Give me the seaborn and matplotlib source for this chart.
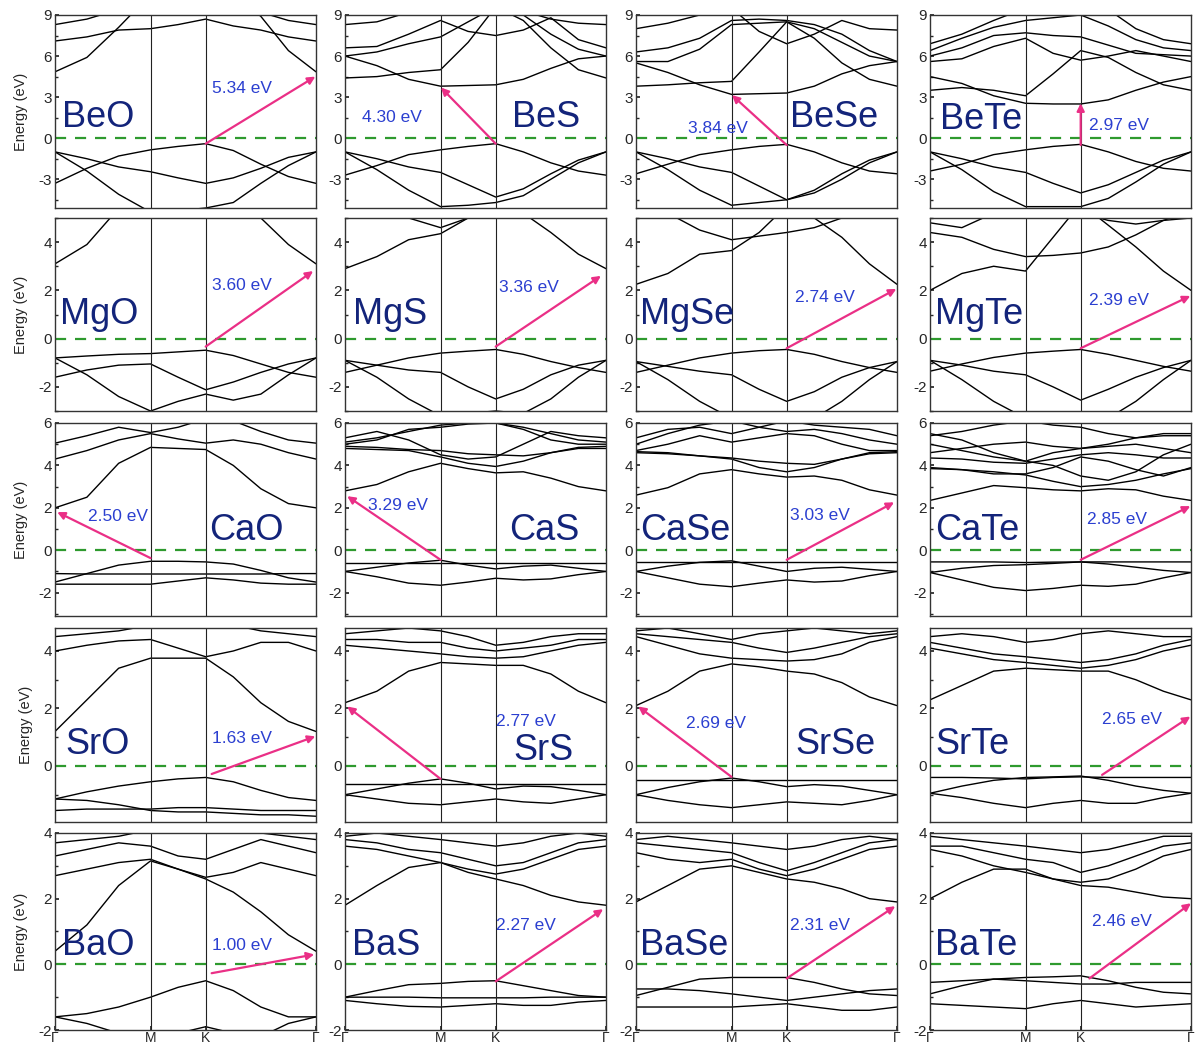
import numpy as np
import pandas as pd
import matplotlib
matplotlib.use("Agg")
import matplotlib.pyplot as plt
import seaborn as sns

# ---------------- data ----------------
K_PATH = [0.0, 0.289, 0.577, 0.866, 1.116, 1.366, 1.616, 1.866, 2.116, 2.366]
K_TICKS = [0.0, 0.866, 1.366, 2.366]
K_LABELS = ["Γ", "M", "K", "Γ"]

COMPOUNDS = ["BeO", "BeS", "BeSe", "BeTe",
             "MgO", "MgS", "MgSe", "MgTe",
             "CaO", "CaS", "CaSe", "CaTe",
             "SrO", "SrS", "SrSe", "SrTe",
             "BaO", "BaS", "BaSe", "BaTe"]
GAP_LABELS = ["5.34 eV", "4.30 eV", "3.84 eV", "2.97 eV",
              "3.60 eV", "3.36 eV", "2.74 eV", "2.39 eV",
              "2.50 eV", "3.29 eV", "3.03 eV", "2.85 eV",
              "1.63 eV", "2.77 eV", "2.69 eV", "2.65 eV",
              "1.00 eV", "2.27 eV", "2.31 eV", "2.46 eV"]

BeO = [[-3.3, -2.2, -1.3, -0.85, -0.6, -0.4, -0.9, -1.9, -2.8, -3.3],
       [-1.0, -1.5, -2.1, -2.45, -2.9, -3.3, -2.9, -2.2, -1.4, -1.0],
       [-1.0, -2.4, -4.1, -5.4, -5.3, -5.1, -4.7, -3.3, -2.0, -1.0],
       [4.85, 5.9, 8.1, 10.5, 11.0, 11.0, 10.5, 8.9, 6.4, 4.85],
       [7.1, 7.4, 7.9, 8.0, 8.3, 8.7, 8.2, 7.9, 7.4, 7.1],
       [8.3, 8.7, 9.4, 9.8, 9.8, 9.7, 9.6, 9.2, 8.6, 8.3]]
BeS = [[-2.7, -2.0, -1.2, -0.85, -0.6, -0.4, -1.0, -1.8, -2.4, -2.7],
       [-1.0, -1.5, -2.1, -2.5, -3.4, -4.3, -3.7, -2.6, -1.6, -1.0],
       [-1.0, -2.3, -3.8, -5.0, -4.9, -4.7, -4.2, -3.0, -1.8, -1.0],
       [6.0, 5.3, 4.3, 3.8, 3.85, 3.9, 4.3, 5.1, 5.8, 6.0],
       [4.4, 4.5, 4.8, 5.0, 7.0, 9.6, 8.6, 6.6, 5.0, 4.4],
       [6.6, 6.7, 7.6, 8.6, 7.8, 7.5, 7.9, 8.8, 7.2, 6.6],
       [8.3, 8.5, 9.2, 9.5, 9.7, 9.6, 9.3, 8.7, 8.4, 8.3],
       [6.0, 6.3, 6.9, 7.4, 8.5, 9.6, 9.0, 7.6, 6.5, 6.0]]
BeSe = [[-2.6, -1.9, -1.2, -0.85, -0.6, -0.45, -1.0, -1.8, -2.4, -2.6],
        [-1.0, -1.5, -2.1, -2.5, -3.5, -4.5, -3.8, -2.6, -1.6, -1.0],
        [-1.0, -2.3, -3.8, -4.9, -4.7, -4.5, -4.0, -3.0, -1.8, -1.0],
        [5.5, 4.8, 3.9, 3.2, 3.25, 3.3, 3.8, 4.7, 5.3, 5.6],
        [3.8, 3.9, 4.05, 4.15, 6.3, 8.5, 7.3, 5.5, 4.3, 3.8],
        [5.6, 5.6, 6.5, 8.3, 8.4, 8.5, 8.0, 7.0, 6.0, 5.6],
        [6.3, 6.6, 7.3, 8.6, 8.7, 8.6, 8.3, 7.6, 6.4, 5.6],
        [8.0, 8.4, 9.0, 9.5, 7.8, 6.9, 7.6, 8.6, 8.0, 7.9]]
BeTe = [[-2.4, -1.9, -1.2, -0.85, -0.6, -0.45, -1.0, -1.7, -2.2, -2.4],
        [-1.0, -1.5, -2.1, -2.5, -3.3, -4.0, -3.4, -2.5, -1.6, -1.0],
        [-1.0, -2.3, -3.9, -5.0, -5.0, -5.0, -4.4, -3.2, -1.9, -1.0],
        [4.5, 4.0, 3.1, 2.55, 2.5, 2.5, 2.8, 3.5, 4.1, 4.5],
        [3.5, 3.7, 3.5, 3.1, 4.7, 6.4, 5.9, 4.8, 3.9, 3.5],
        [5.6, 5.8, 6.7, 7.3, 6.2, 5.7, 6.0, 6.4, 6.0, 5.6],
        [6.0, 6.6, 7.5, 7.7, 7.5, 7.4, 6.8, 6.2, 6.1, 6.0],
        [6.4, 7.3, 8.1, 8.6, 8.8, 9.0, 8.2, 7.2, 6.6, 6.4],
        [6.9, 7.6, 8.6, 9.5, 9.5, 9.0, 9.4, 8.0, 7.2, 6.9]]

MgO = [[-0.8, -0.72, -0.65, -0.62, -0.55, -0.48, -0.7, -1.05, -1.4, -1.6],
       [-1.6, -1.3, -1.1, -1.05, -1.6, -2.12, -1.8, -1.4, -1.05, -0.8],
       [-0.8, -1.5, -2.4, -3.0, -2.6, -2.3, -2.55, -2.3, -1.5, -0.8],
       [3.1, 3.9, 5.4, 7.0, 7.5, 7.5, 7.0, 5.0, 3.9, 3.1]]
MgS = [[-1.4, -1.1, -0.8, -0.6, -0.52, -0.45, -0.65, -0.95, -1.2, -1.4],
       [-0.9, -1.1, -1.3, -1.4, -2.0, -2.5, -2.1, -1.5, -1.1, -0.9],
       [-0.9, -1.6, -2.5, -3.2, -3.1, -3.0, -3.1, -2.5, -1.6, -0.9],
       [2.9, 3.4, 4.1, 4.35, 5.0, 5.4, 5.2, 4.4, 3.5, 2.9],
       [6.0, 5.6, 5.0, 4.6, 5.0, 5.5, 6.0, 6.2, 6.3, 6.3]]
MgSe = [[-1.4, -1.1, -0.8, -0.6, -0.5, -0.45, -0.65, -0.95, -1.2, -1.4],
        [-0.95, -1.15, -1.35, -1.5, -2.1, -2.6, -2.2, -1.6, -1.2, -0.95],
        [-0.95, -1.7, -2.6, -3.3, -3.3, -3.2, -3.3, -2.6, -1.7, -0.95],
        [2.25, 2.7, 3.5, 3.65, 4.4, 5.5, 5.0, 4.2, 3.1, 2.25],
        [5.6, 5.2, 4.5, 4.1, 4.25, 4.4, 4.6, 5.0, 5.5, 6.0]]
MgTe = [[-1.35, -1.05, -0.78, -0.6, -0.52, -0.45, -0.65, -0.9, -1.15, -1.35],
        [-0.9, -1.1, -1.35, -1.5, -2.0, -2.55, -2.1, -1.6, -1.2, -0.9],
        [-0.9, -1.7, -2.6, -3.3, -3.3, -3.2, -3.3, -2.6, -1.7, -0.9],
        [2.0, 2.7, 3.0, 2.8, 4.2, 5.6, 4.7, 3.8, 2.8, 2.0],
        [4.4, 4.2, 3.7, 3.4, 3.45, 3.55, 3.8, 4.3, 4.9, 5.3],
        [4.8, 4.6, 5.2, 5.6, 5.4, 5.2, 4.9, 4.75, 4.9, 5.0]]

CaO = [[-1.5, -1.1, -0.7, -0.52, -0.52, -0.55, -0.65, -0.95, -1.3, -1.5],
       [-1.1, -1.12, -1.12, -1.12, -1.12, -1.12, -1.12, -1.12, -1.1, -1.1],
       [-1.6, -1.6, -1.6, -1.6, -1.45, -1.3, -1.4, -1.55, -1.6, -1.6],
       [2.0, 2.5, 4.1, 4.85, 4.8, 4.75, 4.0, 2.9, 2.2, 2.0],
       [4.3, 4.7, 5.2, 5.5, 5.25, 5.05, 5.2, 5.0, 4.6, 4.3],
       [5.05, 5.4, 5.8, 5.55, 5.8, 6.2, 6.1, 5.6, 5.2, 5.05]]
CaS = [[-1.0, -0.8, -0.6, -0.47, -0.7, -0.88, -0.75, -0.7, -0.85, -1.0],
       [-0.62, -0.62, -0.62, -0.62, -0.62, -0.62, -0.62, -0.62, -0.62, -0.62],
       [-1.0, -1.25, -1.55, -1.65, -1.5, -1.32, -1.4, -1.35, -1.15, -1.0],
       [2.8, 3.1, 3.7, 4.1, 3.85, 3.65, 3.7, 3.4, 3.0, 2.8],
       [4.8, 4.75, 4.7, 4.4, 4.1, 3.95, 4.2, 4.6, 4.8, 4.8],
       [4.9, 4.85, 4.75, 4.7, 4.55, 4.5, 4.45, 4.6, 4.85, 4.9],
       [5.1, 5.3, 5.6, 5.9, 6.0, 6.0, 5.8, 5.5, 5.2, 5.1],
       [5.3, 5.6, 5.2, 4.5, 4.3, 4.4, 5.0, 5.6, 5.4, 5.3],
       [5.0, 5.2, 5.7, 5.8, 5.95, 6.0, 5.7, 5.2, 5.0, 5.0]]
CaSe = [[-1.0, -0.75, -0.57, -0.5, -0.75, -1.0, -0.85, -0.8, -0.9, -1.0],
        [-0.55, -0.55, -0.55, -0.55, -0.55, -0.55, -0.55, -0.55, -0.55, -0.55],
        [-1.0, -1.3, -1.6, -1.72, -1.55, -1.4, -1.5, -1.45, -1.2, -1.0],
        [2.6, 2.95, 3.6, 3.8, 3.6, 3.45, 3.5, 3.3, 2.85, 2.6],
        [4.6, 4.55, 4.45, 4.3, 3.9, 3.7, 3.9, 4.3, 4.55, 4.6],
        [4.65, 4.6, 4.45, 4.35, 4.2, 4.1, 4.05, 4.3, 4.6, 4.65],
        [4.7, 5.0, 5.4, 5.1, 5.3, 5.5, 5.4, 5.0, 4.7, 4.7],
        [5.0, 5.5, 5.9, 6.1, 5.8, 5.6, 5.7, 5.5, 5.2, 5.0],
        [5.3, 5.7, 5.8, 5.5, 5.8, 6.1, 5.9, 5.8, 5.7, 5.4]]
CaTe = [[-1.05, -0.85, -0.72, -0.68, -0.62, -0.55, -0.65, -0.8, -0.95, -1.05],
        [-0.55, -0.55, -0.55, -0.58, -0.56, -0.55, -0.55, -0.55, -0.55, -0.55],
        [-1.05, -1.4, -1.75, -1.9, -1.8, -1.65, -1.7, -1.6, -1.3, -1.05],
        [2.35, 2.7, 3.05, 2.95, 2.85, 2.8, 2.9, 2.85, 2.55, 2.35],
        [3.85, 3.8, 3.7, 3.55, 3.25, 3.0, 3.1, 3.3, 3.6, 3.85],
        [3.9, 3.8, 3.6, 3.6, 3.9, 4.4, 4.2, 3.8, 3.5, 3.9],
        [4.35, 4.3, 4.15, 4.1, 4.3, 4.5, 4.6, 4.5, 4.35, 4.35],
        [4.6, 4.8, 5.0, 5.1, 4.9, 4.8, 4.9, 5.0, 4.8, 4.6],
        [5.0, 4.7, 4.4, 4.2, 4.0, 3.5, 3.3, 3.7, 4.5, 5.0],
        [5.4, 5.6, 5.9, 6.1, 5.9, 5.8, 5.5, 5.3, 5.4, 5.4],
        [5.5, 5.2, 4.6, 4.2, 4.6, 4.8, 5.0, 5.3, 5.5, 5.5]]

SrO = [[-1.15, -0.9, -0.7, -0.55, -0.45, -0.4, -0.55, -0.85, -1.1, -1.2],
       [-1.55, -1.5, -1.5, -1.5, -1.45, -1.45, -1.5, -1.55, -1.55, -1.55],
       [-1.15, -1.2, -1.35, -1.55, -1.6, -1.6, -1.65, -1.7, -1.7, -1.75],
       [1.2, 2.3, 3.4, 3.75, 3.75, 3.75, 3.1, 2.2, 1.55, 1.2],
       [4.0, 4.2, 4.35, 4.4, 4.1, 3.8, 4.0, 4.3, 4.3, 4.0],
       [4.5, 4.6, 4.7, 4.9, 5.0, 5.0, 4.9, 4.7, 4.6, 4.5]]
SrS = [[-1.0, -0.8, -0.6, -0.45, -0.6, -0.8, -0.7, -0.72, -0.85, -1.0],
       [-0.62, -0.62, -0.62, -0.62, -0.62, -0.62, -0.62, -0.62, -0.62, -0.62],
       [-1.0, -1.15, -1.3, -1.35, -1.25, -1.15, -1.25, -1.3, -1.15, -1.0],
       [2.2, 2.6, 3.3, 3.6, 3.55, 3.5, 3.5, 3.2, 2.6, 2.2],
       [4.2, 4.1, 4.0, 3.9, 3.8, 3.75, 3.8, 4.0, 4.2, 4.3],
       [4.4, 4.4, 4.3, 4.3, 4.1, 4.0, 4.1, 4.2, 4.4, 4.4],
       [4.6, 4.7, 4.8, 4.7, 4.5, 4.2, 4.3, 4.5, 4.6, 4.6]]
SrSe = [[-1.0, -0.75, -0.55, -0.42, -0.55, -0.72, -0.65, -0.7, -0.85, -1.0],
        [-0.5, -0.5, -0.5, -0.5, -0.5, -0.5, -0.5, -0.5, -0.5, -0.5],
        [-1.0, -1.2, -1.35, -1.45, -1.35, -1.25, -1.3, -1.35, -1.2, -1.0],
        [2.1, 2.6, 3.3, 3.55, 3.45, 3.3, 3.2, 2.9, 2.4, 2.1],
        [4.5, 4.2, 3.9, 3.75, 3.7, 3.65, 3.7, 3.9, 4.3, 4.5],
        [4.6, 4.5, 4.4, 4.3, 4.1, 3.95, 4.1, 4.3, 4.5, 4.6],
        [4.7, 4.8, 4.6, 4.4, 4.6, 4.7, 4.8, 4.7, 4.6, 4.7]]
SrTe = [[-0.95, -0.7, -0.5, -0.4, -0.38, -0.35, -0.5, -0.7, -0.85, -0.95],
        [-0.4, -0.4, -0.42, -0.45, -0.4, -0.38, -0.4, -0.4, -0.4, -0.4],
        [-0.95, -1.1, -1.3, -1.45, -1.3, -1.2, -1.3, -1.3, -1.1, -0.95],
        [2.3, 2.8, 3.3, 3.4, 3.35, 3.3, 3.3, 3.0, 2.6, 2.3],
        [4.1, 3.9, 3.7, 3.6, 3.5, 3.4, 3.5, 3.7, 4.0, 4.2],
        [4.3, 4.1, 3.9, 3.8, 3.7, 3.6, 3.7, 3.9, 4.2, 4.4],
        [4.5, 4.6, 4.5, 4.3, 4.4, 4.6, 4.7, 4.6, 4.5, 4.5]]

BaO = [[-1.6, -1.5, -1.3, -1.0, -0.7, -0.5, -0.8, -1.3, -1.6, -1.6],
       [-1.6, -1.8, -2.1, -2.2, -2.1, -1.9, -2.1, -2.2, -1.8, -1.6],
       [0.4, 1.2, 2.4, 3.15, 2.9, 2.6, 2.2, 1.6, 0.9, 0.4],
       [2.7, 2.9, 3.1, 3.2, 2.9, 2.65, 2.8, 3.1, 2.9, 2.7],
       [3.3, 3.5, 3.7, 3.6, 3.3, 3.2, 3.5, 3.8, 3.6, 3.4],
       [3.7, 3.8, 3.9, 4.1, 4.2, 4.3, 4.2, 4.0, 3.9, 3.8]]
BaS = [[-1.0, -0.8, -0.62, -0.58, -0.52, -0.5, -0.65, -0.8, -0.95, -1.0],
       [-1.0, -1.0, -1.0, -1.02, -1.02, -1.02, -1.02, -1.0, -1.0, -1.0],
       [-1.1, -1.2, -1.28, -1.3, -1.25, -1.2, -1.25, -1.25, -1.15, -1.1],
       [1.8, 2.4, 2.95, 3.1, 2.8, 2.6, 2.4, 2.1, 1.9, 1.8],
       [3.6, 3.5, 3.3, 3.1, 2.9, 2.75, 2.9, 3.2, 3.5, 3.6],
       [3.8, 3.7, 3.5, 3.4, 3.2, 3.0, 3.1, 3.4, 3.7, 3.8],
       [3.9, 4.0, 3.9, 3.8, 3.7, 3.6, 3.7, 3.9, 4.0, 3.9]]
BaSe = [[-0.95, -0.7, -0.45, -0.4, -0.4, -0.4, -0.55, -0.75, -0.9, -0.95],
        [-0.75, -0.75, -0.8, -0.9, -1.0, -1.1, -1.0, -0.9, -0.8, -0.75],
        [-1.3, -1.3, -1.3, -1.3, -1.25, -1.2, -1.3, -1.4, -1.4, -1.3],
        [1.9, 2.4, 2.9, 3.0, 2.8, 2.6, 2.5, 2.3, 2.0, 1.9],
        [3.4, 3.2, 3.1, 3.2, 2.9, 2.7, 2.9, 3.2, 3.5, 3.6],
        [3.7, 3.6, 3.5, 3.4, 3.1, 2.85, 3.1, 3.4, 3.7, 3.8],
        [3.8, 3.9, 3.8, 3.7, 3.6, 3.5, 3.6, 3.8, 3.9, 3.8]]
BaTe = [[-0.9, -0.65, -0.45, -0.4, -0.38, -0.35, -0.5, -0.7, -0.85, -0.9],
        [-0.55, -0.5, -0.45, -0.5, -0.55, -0.6, -0.6, -0.55, -0.55, -0.55],
        [-1.2, -1.25, -1.3, -1.35, -1.2, -1.1, -1.2, -1.3, -1.25, -1.2],
        [2.0, 2.5, 2.9, 2.9, 2.6, 2.4, 2.35, 2.2, 2.05, 2.0],
        [3.5, 3.3, 3.0, 2.8, 2.6, 2.5, 2.6, 2.9, 3.3, 3.5],
        [3.6, 3.6, 3.4, 3.2, 3.1, 2.8, 3.0, 3.3, 3.6, 3.7],
        [3.9, 3.8, 3.7, 3.6, 3.5, 3.4, 3.5, 3.7, 3.9, 3.9]]

BANDS = [BeO, BeS, BeSe, BeTe, MgO, MgS, MgSe, MgTe, CaO, CaS, CaSe, CaTe,
         SrO, SrS, SrSe, SrTe, BaO, BaS, BaSe, BaTe]

# arrows: tail (VBM) -> head (CBM), in k / eV
ARROW_TAIL_K = [1.366, 1.366, 1.366, 1.366, 1.366, 1.366, 1.366, 1.366,
                0.866, 0.866, 1.366, 1.366, 1.42, 0.866, 0.866, 1.56,
                1.42, 1.366, 1.366, 1.445]
ARROW_TAIL_E = [-0.4, -0.4, -0.5, -0.5, -0.33, -0.33, -0.4, -0.4,
                -0.37, -0.45, -0.45, -0.45, -0.28, -0.45, -0.38, -0.31,
                -0.27, -0.52, -0.43, -0.43]
ARROW_HEAD_K = [2.36, 0.87, 0.87, 1.366, 2.34, 2.32, 2.36, 2.36,
                0.02, 0.02, 2.34, 2.36, 2.36, 0.02, 0.02, 2.36,
                2.35, 2.34, 2.35, 2.366]
ARROW_HEAD_E = [4.5, 3.7, 3.15, 2.55, 2.8, 2.6, 2.06, 1.77,
                1.8, 2.55, 2.26, 2.08, 1.03, 2.07, 2.07, 1.72,
                0.3, 1.68, 1.77, 1.86]

# label placements (axes fraction)
NAME_X = [0.027, 0.64, 0.59, 0.04, 0.02, 0.03, 0.015, 0.02,
          0.59, 0.63, 0.015, 0.02, 0.04, 0.645, 0.61, 0.02,
          0.027, 0.027, 0.015, 0.02]
NAME_Y = [0.47, 0.47, 0.47, 0.46, 0.50, 0.50, 0.50, 0.50,
          0.445, 0.445, 0.445, 0.445, 0.40, 0.37, 0.40, 0.40,
          0.43, 0.43, 0.43, 0.43]
GAP_X = [0.60, 0.065, 0.20, 0.61, 0.60, 0.59, 0.61, 0.61,
         0.126, 0.088, 0.59, 0.60, 0.60, 0.58, 0.19, 0.66,
         0.60, 0.58, 0.59, 0.62]
GAP_Y = [0.62, 0.47, 0.41, 0.43, 0.65, 0.64, 0.59, 0.575,
         0.515, 0.575, 0.52, 0.50, 0.43, 0.52, 0.51, 0.53,
         0.43, 0.53, 0.53, 0.55]

ROW_YLIM = [(-5.1, 9), (-3, 5), (-3.1, 6), (-1.95, 4.8), (-2, 4)]
ROW_YTICKS = [[-3, 0, 3, 6, 9], [-2, 0, 2, 4], [-2, 0, 2, 4, 6], [-2, 0, 2, 4], [-2, 0, 2, 4]]

# ---------------- layout (pixels) ----------------
W, H = 1199, 1053
COL_LEFT = [55, 345, 636, 930]
COL_W = 261
ROW_TOP = [15, 218, 423, 628, 833]
ROW_H = [193, 193, 193, 194, 197]

sns.set_theme(style="ticks")
plt.rcParams["font.family"] = ["Liberation Sans", "DejaVu Sans"]
plt.rcParams["axes.unicode_minus"] = False

fig = plt.figure(figsize=(W / 100, H / 100), dpi=100)

NAME_COLOR = "#13247a"
GAP_COLOR = "#2b3fd0"
ARROW_COLOR = "#ea2f86"

for i, name in enumerate(COMPOUNDS):
    r, c = divmod(i, 4)
    ax = fig.add_axes([COL_LEFT[c] / W, 1 - (ROW_TOP[r] + ROW_H[r]) / H,
                       COL_W / W, ROW_H[r] / H])
    rows = [(K_PATH[j], e, b) for b, band in enumerate(BANDS[i]) for j, e in enumerate(band)]
    df = pd.DataFrame(rows, columns=["k", "E", "band"])
    sns.lineplot(data=df, x="k", y="E", units="band", estimator=None, sort=False,
                 color="black", lw=1.0, ax=ax, legend=False)
    for kv in K_TICKS[1:3]:
        ax.axvline(kv, color="#222222", lw=0.8)
    ax.axhline(0, color="#2e9a2e", lw=1.6, ls=(0, (5, 4)))
    ax.annotate("", xy=(ARROW_HEAD_K[i], ARROW_HEAD_E[i]),
                xytext=(ARROW_TAIL_K[i], ARROW_TAIL_E[i]),
                arrowprops=dict(arrowstyle="-|>", color=ARROW_COLOR, lw=1.6,
                                mutation_scale=11, shrinkA=0, shrinkB=0))
    ax.text(NAME_X[i], NAME_Y[i], name, transform=ax.transAxes, ha="left", va="center",
            fontsize=26, color=NAME_COLOR)
    ax.text(GAP_X[i], GAP_Y[i], GAP_LABELS[i], transform=ax.transAxes, ha="left", va="center",
            fontsize=12.5, color=GAP_COLOR)

    ax.set_yticks(ROW_YTICKS[r])
    step = ROW_YTICKS[r][1] - ROW_YTICKS[r][0]
    ax.set_yticks(np.arange(ROW_YTICKS[r][0] - step, ROW_YTICKS[r][-1] + step, step / 2), minor=True)
    ax.tick_params(axis="y", which="major", direction="in", length=3, labelsize=11, pad=2)
    ax.tick_params(axis="y", which="minor", direction="in", length=2)
    if r == 4:
        ax.set_xticks(K_TICKS)
        ax.set_xticklabels(K_LABELS, fontsize=10)
        ax.tick_params(axis="x", direction="in", length=3, pad=1)
    else:
        ax.set_xticks([])
    ax.set_xlim(K_TICKS[0], K_TICKS[-1])
    ax.set_ylim(*ROW_YLIM[r])
    ax.set_xlabel("")
    if c == 0:
        ax.set_ylabel("Energy (eV)", fontsize=10.5, labelpad=8)
    else:
        ax.set_ylabel("")
    for s in ax.spines.values():
        s.set_linewidth(1.0)
        s.set_color("#333333")

fig.savefig("out.png", dpi=100)
